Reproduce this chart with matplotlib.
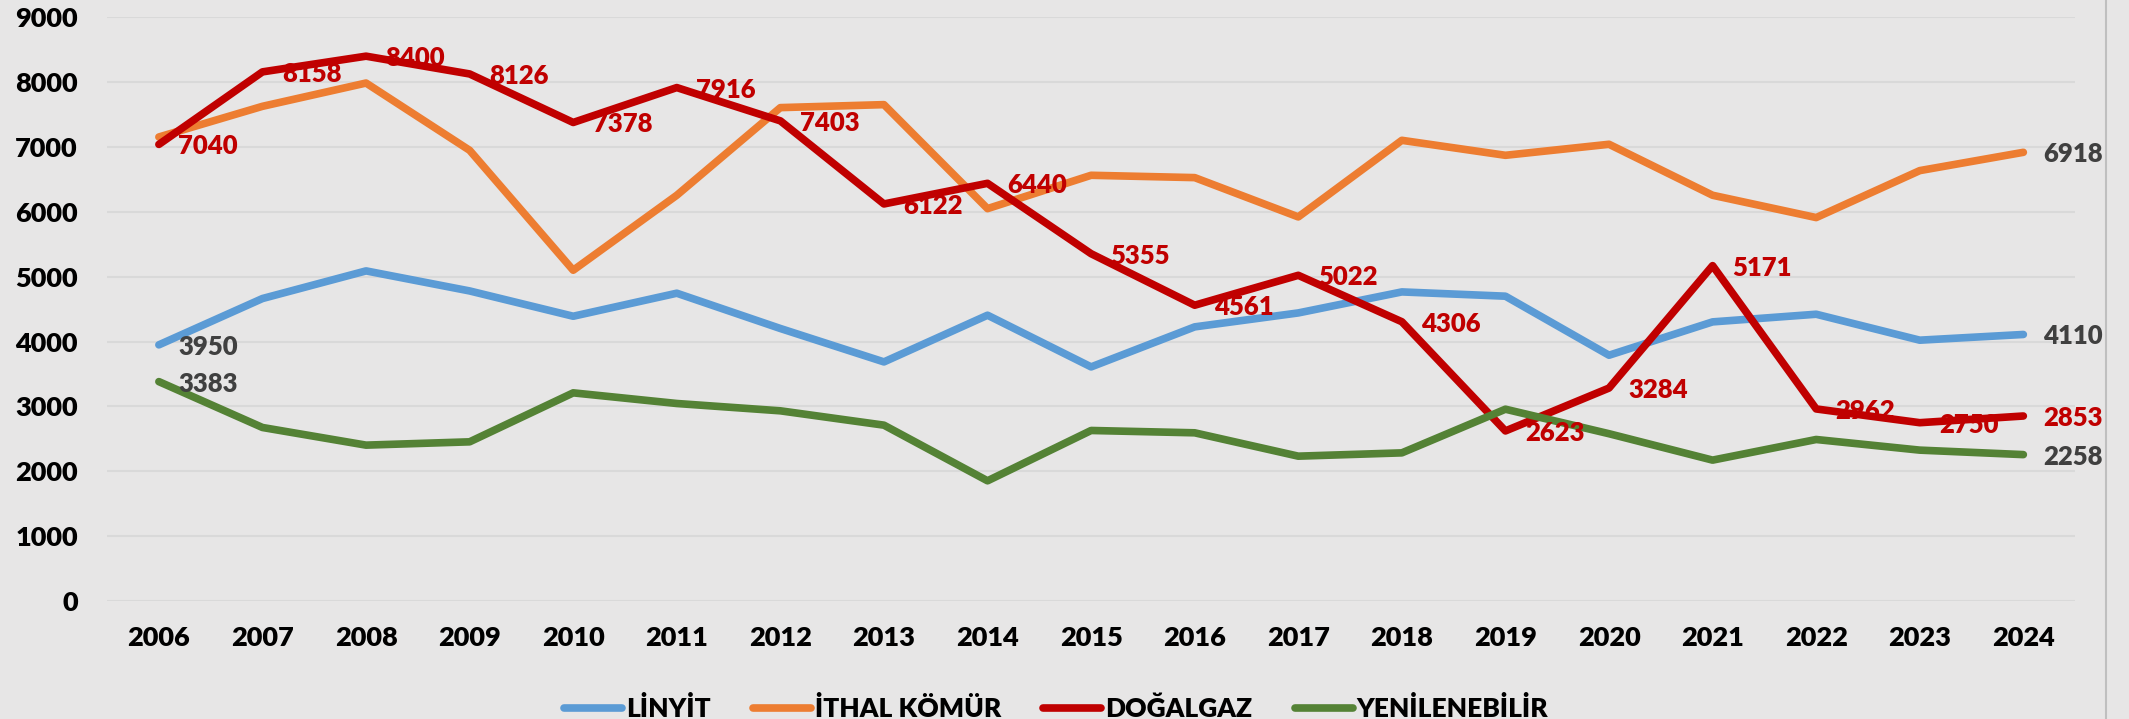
import matplotlib.pyplot as plt
from matplotlib.lines import Line2D

plt.rcParams['font.family'] = ['Lato', 'DejaVu Sans']

years = [str(y) for y in range(2006, 2025)]

linyit = [3950, 4664, 5090, 4781, 4391, 4746, 4202, 3687, 4407, 3610,
          4227, 4442, 4766, 4700, 3790, 4304, 4422, 4022, 4110]
ithal = [7154, 7627, 7986, 6949, 5100, 6256, 7607, 7653, 6050, 6564,
         6528, 5922, 7103, 6872, 7042, 6256, 5912, 6636, 6918]
dogalgaz = [7040, 8158, 8400, 8126, 7378, 7916, 7403, 6122, 6440, 5355,
            4561, 5022, 4306, 2623, 3284, 5171, 2962, 2750, 2853]
yenilenebilir = [3383, 2676, 2404, 2455, 3210, 3046, 2933, 2712, 1854, 2630,
                 2594, 2234, 2285, 2958, 2580, 2173, 2491, 2327, 2258]

names = ["LİNYİT", "İTHAL KÖMÜR", "DOĞALGAZ", "YENİLENEBİLİR"]
colors = ["#5B9BD5", "#ED7D31", "#C00000", "#548235"]
series = [linyit, ithal, dogalgaz, yenilenebilir]

W = 'heavy'
bg = "#e7e6e6"
fig = plt.figure(figsize=(21.29, 7.19), dpi=100, facecolor=bg)
ax = fig.add_axes([0.0503, 0.164, 0.9244, 0.812])
ax.set_facecolor(bg)

x = list(range(len(years)))
for d, c, n in zip(series, colors, names):
    ax.plot(x, d, color=c, lw=5.5, label=n, solid_capstyle='round',
            solid_joinstyle='round', zorder=3)

# data labels
def lab(i, v, col):
    ax.annotate(str(v), (i, v), xytext=(14, 0), textcoords='offset points',
                ha='left', va='center_baseline', fontsize=18.5,
                fontweight=W, color=col, zorder=5)

for i, v in enumerate(dogalgaz):
    lab(i, v, "#C00000")
lab(0, linyit[0], "#404040")
lab(18, linyit[18], "#404040")
lab(18, ithal[18], "#404040")
lab(0, yenilenebilir[0], "#404040")
lab(18, yenilenebilir[18], "#404040")

ax.set_xlim(-0.5, 18.5)
ax.set_ylim(0, 9000)
ax.set_xticks(x)
ax.set_xticklabels(years)
ax.set_yticks(range(0, 9001, 1000))
ax.tick_params(axis='y', length=0, pad=21, labelsize=19.5)
ax.tick_params(axis='x', length=0, pad=18, labelsize=19.5)
for t in ax.get_xticklabels() + ax.get_yticklabels():
    t.set_fontweight(W)
ax.grid(axis='y', color='#d9d9d9', lw=1.5, zorder=0)
ax.set_axisbelow(True)
for s in ax.spines.values():
    s.set_visible(False)

fig.legend(loc='center', bbox_to_anchor=(0.496, 0.014), ncol=4, frameon=False,
           handlelength=2.2, handletextpad=0.15, columnspacing=1.6,
           prop={'weight': W, 'size': 19})

fig.add_artist(Line2D([2106 / 2129, 2106 / 2129], [0, 1], color='#bfbfbf', lw=1.5))

fig.savefig('out.png', dpi=100, facecolor=bg)
